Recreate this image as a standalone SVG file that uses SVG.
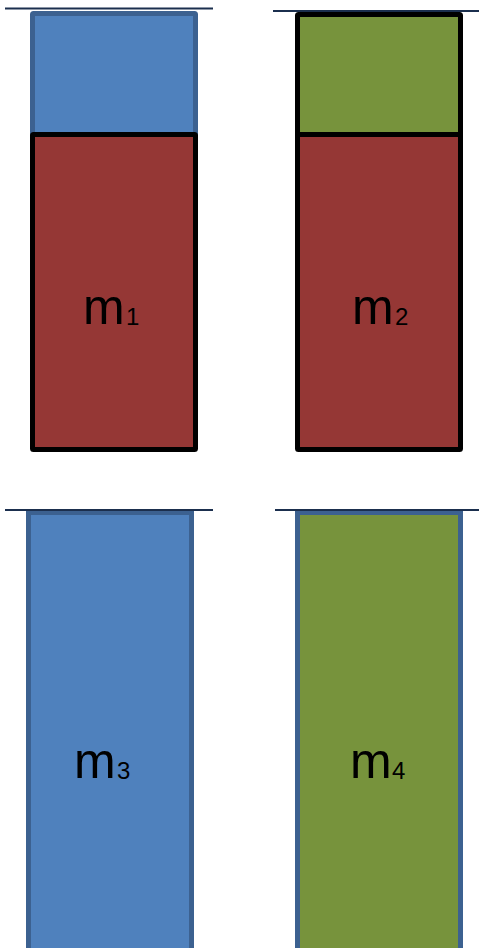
<svg xmlns="http://www.w3.org/2000/svg" width="479" height="948" viewBox="0 0 479 948">
<style>
.blue{fill:#4F81BD;stroke:#3C6190;stroke-width:5}
.green{fill:#77933C;stroke:#000;stroke-width:5}
.greenb{fill:#77933C;stroke:#3C6190;stroke-width:5}
.red{fill:#953735;stroke:#000;stroke-width:5}
.lvl{stroke:#1B2F4E;stroke-width:2;fill:none}
.lbl{font-family:"Liberation Sans",Arial,sans-serif;font-size:50px;fill:#000}
.sub{font-size:24px}
</style>
<rect x="0" y="0" width="479" height="948" fill="#fff"/>
<g id="m1">
<rect class="blue" x="32.5" y="13.5" width="163" height="125" rx="1"/>
<rect class="red" x="32.5" y="134.5" width="163" height="315" rx="1"/>
<text class="lbl" x="83" y="324">m<tspan class="sub" x="126" y="325">1</tspan></text>
</g>
<g id="m2">
<rect class="green" x="297.5" y="14.5" width="163" height="124" rx="1"/>
<rect class="red" x="297.5" y="134.5" width="163" height="315" rx="1"/>
<text class="lbl" x="352" y="324">m<tspan class="sub" x="395" y="325">2</tspan></text>
</g>
<g id="m3">
<rect class="blue" x="28.5" y="512.5" width="163" height="445"/>
<text class="lbl" x="74" y="778">m<tspan class="sub" x="117" y="779">3</tspan></text>
</g>
<g id="m4">
<rect class="greenb" x="297.5" y="512.5" width="163" height="445"/>
<text class="lbl" x="350" y="778">m<tspan class="sub" x="392" y="779">4</tspan></text>
</g>
<g id="levels">
<line class="lvl" x1="5" y1="8.5" x2="213" y2="8.5"/>
<line class="lvl" x1="273" y1="11" x2="479" y2="11"/>
<line class="lvl" x1="5" y1="510" x2="213" y2="510"/>
<line class="lvl" x1="275" y1="510" x2="479" y2="510"/>
</g>
</svg>
